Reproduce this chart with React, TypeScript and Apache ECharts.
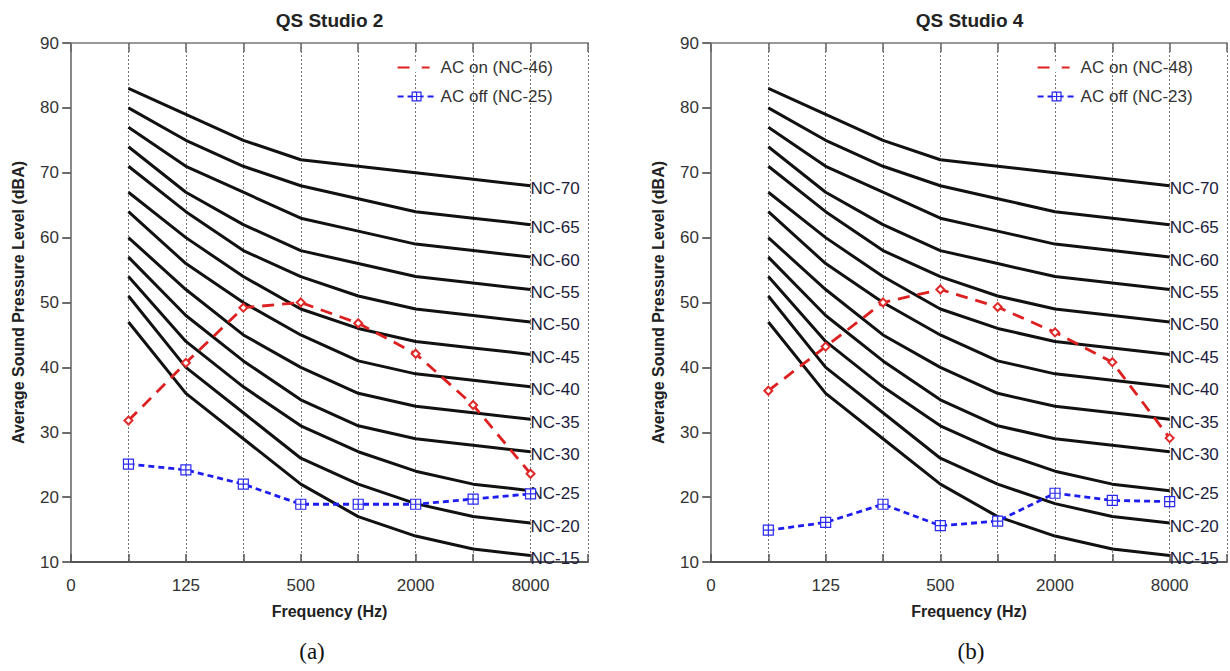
import React, { useEffect, useRef } from "react";
import * as echarts from "echarts";

// Octave-band centre frequencies (Hz); plotted at positions 1..8 on the x axis
const frequencies = [63, 125, 250, 500, 1000, 2000, 4000, 8000];

// Noise Criteria curves (dB) per octave band
const nc15 = [47, 36, 29, 22, 17, 14, 12, 11];
const nc20 = [51, 40, 33, 26, 22, 19, 17, 16];
const nc25 = [54, 44, 37, 31, 27, 24, 22, 21];
const nc30 = [57, 48, 41, 35, 31, 29, 28, 27];
const nc35 = [60, 52, 45, 40, 36, 34, 33, 32];
const nc40 = [64, 56, 50, 45, 41, 39, 38, 37];
const nc45 = [67, 60, 54, 49, 46, 44, 43, 42];
const nc50 = [71, 64, 58, 54, 51, 49, 48, 47];
const nc55 = [74, 67, 62, 58, 56, 54, 53, 52];
const nc60 = [77, 71, 67, 63, 61, 59, 58, 57];
const nc65 = [80, 75, 71, 68, 66, 64, 63, 62];
const nc70 = [83, 79, 75, 72, 71, 70, 69, 68];

const ncNames = ["NC-15", "NC-20", "NC-25", "NC-30", "NC-35", "NC-40", "NC-45", "NC-50", "NC-55", "NC-60", "NC-65", "NC-70"];
const ncCurves = [nc15, nc20, nc25, nc30, nc35, nc40, nc45, nc50, nc55, nc60, nc65, nc70];

// Measured levels, QS Studio 2
const studio2AcOn = [31.8, 40.7, 49.2, 50.0, 46.8, 42.1, 34.2, 23.6];
const studio2AcOff = [25.1, 24.2, 22.0, 18.9, 18.9, 18.9, 19.7, 20.5];

// Measured levels, QS Studio 4
const studio4AcOn = [36.4, 43.2, 50.0, 52.0, 49.3, 45.4, 40.8, 29.1];
const studio4AcOff = [14.9, 16.1, 18.9, 15.6, 16.3, 20.6, 19.5, 19.3];

const panelTitles = ["QS Studio 2", "QS Studio 4"];
const panelCaptions = ["(a)", "(b)"];
const acOnNames = ["AC on (NC-46)", "AC on (NC-48)"];
const acOffNames = ["AC off (NC-25)", "AC off (NC-23)"];

const FONT = "'Liberation Sans', Arial, sans-serif";
const SERIF = "'Liberation Serif', 'Times New Roman', serif";

const toPoints = (vals: number[]) => vals.map((v, i) => [i + 1, v]);

const freqLabel = (v: number) => {
  if (v === 0) return "0";
  if (v % 2 === 0 && v <= frequencies.length) return String(frequencies[v - 1]);
  return "";
};

const GRID_LEFTS = [71, 711];
const GRID_TOP = 43;
const GRID_W = 517;
const GRID_H = 519;

const squarePlus = "path://M0 0H10V10H0Z M5 0V10 M0 5H10";

function buildOption() {
  const grid = GRID_LEFTS.map((left) => ({ left, top: GRID_TOP, width: GRID_W, height: GRID_H }));

  const xAxis: any[] = [];
  const yAxis: any[] = [];
  [0, 1].forEach((g) => {
    xAxis.push({
      type: "value",
      gridIndex: g,
      min: 0,
      max: 9,
      interval: 1,
      position: "bottom",
      axisLine: { show: true, lineStyle: { color: "#555", width: 2 } },
      axisTick: { show: true, inside: true, length: 8, lineStyle: { color: "#555", width: 1.5 } },
      axisLabel: { formatter: freqLabel, fontSize: 17, color: "#333", margin: 15, fontFamily: FONT },
      splitLine: { show: true, lineStyle: { color: "#777", type: [2, 2], width: 1 } },
      name: "Frequency (Hz)",
      nameLocation: "middle",
      nameGap: 41,
      nameTextStyle: { fontWeight: "bold", fontSize: 16, color: "#222", fontFamily: FONT },
    });
    xAxis.push({
      type: "value",
      gridIndex: g,
      min: 0,
      max: 9,
      interval: 1,
      position: "top",
      axisLine: { show: true, lineStyle: { color: "#999", width: 2 } },
      axisTick: { show: true, inside: true, length: 9, lineStyle: { color: "#666", width: 1.5 } },
      axisLabel: { show: false },
      splitLine: { show: false },
    });
    yAxis.push({
      type: "value",
      gridIndex: g,
      min: 10,
      max: 90,
      interval: 10,
      position: "left",
      axisLine: { show: true, lineStyle: { color: "#555", width: 2 } },
      axisTick: { show: true, inside: false, length: 8, lineStyle: { color: "#555", width: 1.5 } },
      axisLabel: { fontSize: 17, color: "#333", margin: 12, fontFamily: FONT },
      splitLine: { show: false },
      name: "Average Sound Pressure Level (dBA)",
      nameLocation: "middle",
      nameGap: 45,
      nameTextStyle: { fontWeight: "bold", fontSize: 16, color: "#222", fontFamily: FONT },
    });
    yAxis.push({
      type: "value",
      gridIndex: g,
      min: 10,
      max: 90,
      interval: 10,
      position: "right",
      axisLine: { show: true, lineStyle: { color: "#888", width: 2 } },
      axisTick: { show: true, inside: true, length: 9, lineStyle: { color: "#666", width: 1.5 } },
      axisLabel: { show: false },
      splitLine: { show: false },
    });
  });

  const series: any[] = [];
  const acOnData = [studio2AcOn, studio4AcOn];
  const acOffData = [studio2AcOff, studio4AcOff];

  [0, 1].forEach((g) => {
    const xi = g * 2;
    const yi = g * 2;
    ncCurves.forEach((vals, k) => {
      series.push({
        type: "line",
        name: ncNames[k] + (g === 0 ? "" : " "),
        xAxisIndex: xi,
        yAxisIndex: yi,
        data: toPoints(vals),
        showSymbol: false,
        symbol: "none",
        silent: true,
        lineStyle: { color: "#111", width: 3 },
        z: 2,
        endLabel: {
          show: true,
          formatter: ncNames[k],
          distance: 0,
          offset: [0, 3],
          fontSize: 17,
          color: "#1c1c3c",
          fontFamily: FONT,
        },
      });
    });
    series.push({
      type: "line",
      name: acOnNames[g],
      xAxisIndex: xi,
      yAxisIndex: yi,
      data: toPoints(acOnData[g]),
      symbol: "emptyDiamond",
      symbolSize: 8,
      showSymbol: true,
      itemStyle: { color: "#e02a2a", borderWidth: 1 },
      lineStyle: { color: "#dd1f1f", width: 2.8, type: [12, 8] },
      z: 4,
    });
    series.push({
      type: "line",
      name: acOffNames[g],
      xAxisIndex: xi,
      yAxisIndex: yi,
      data: toPoints(acOffData[g]),
      symbol: squarePlus,
      symbolSize: 10,
      showSymbol: true,
      itemStyle: { color: "#ffffff", borderColor: "#2a2aee", borderWidth: 1.2 },
      lineStyle: { color: "#1d1df0", width: 2.8, type: [6, 4] },
      z: 4,
    });
  });

  const legend = [0, 1].map((g) => ({
    data: [
      { name: acOnNames[g], itemStyle: { color: "#ffffff", borderColor: "#e02a2a", borderWidth: 1.2 } },
      { name: acOffNames[g], itemStyle: { color: "#ffffff", borderColor: "#2a2aee", borderWidth: 1.2 } },
    ],
    orient: "vertical",
    right: g === 0 ? 672 : 32,
    top: 54,
    itemWidth: 38,
    itemHeight: 11,
    itemGap: 12,
    selectedMode: false,
    textStyle: { fontSize: 17, color: "#333", fontFamily: FONT },
  }));

  const graphic: any[] = [];
  [0, 1].forEach((g) => {
    graphic.push({
      type: "text",
      x: GRID_LEFTS[g] + GRID_W / 2,
      y: 20,
      style: {
        text: panelTitles[g],
        font: `bold 19px ${FONT}`,
        fill: "#222",
        align: "center",
        verticalAlign: "middle",
      },
    });
    graphic.push({
      type: "text",
      x: g === 0 ? 312 : 971,
      y: 651,
      style: {
        text: panelCaptions[g],
        font: `23px ${SERIF}`,
        fill: "#111",
        align: "center",
        verticalAlign: "middle",
      },
    });
  });

  return {
    animation: false,
    backgroundColor: "#ffffff",
    grid,
    xAxis,
    yAxis,
    legend,
    series,
    graphic,
  };
}

export default function App() {
  const ref = useRef<HTMLDivElement>(null);

  useEffect(() => {
    if (!ref.current) return;
    const chart = echarts.init(ref.current, undefined, { renderer: "svg" });
    chart.setOption(buildOption());
    return () => chart.dispose();
  }, []);

  return (
    <div
      ref={ref}
      style={{ position: "fixed", left: 0, top: 0, width: 1230, height: 671, background: "#fff" }}
    />
  );
}
